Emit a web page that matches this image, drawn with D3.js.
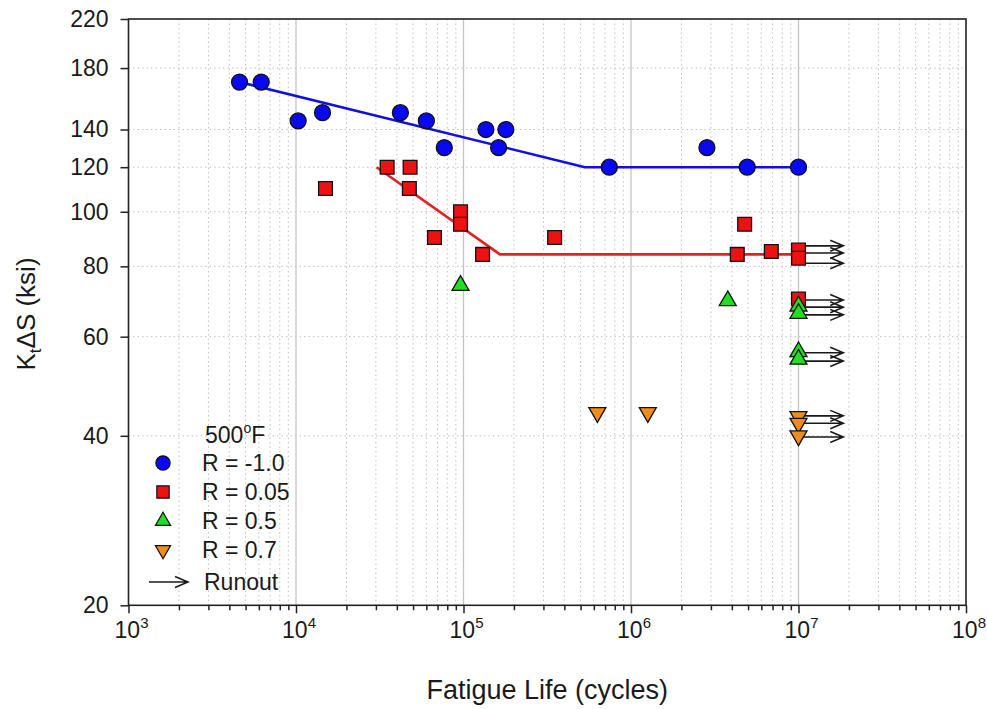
<!DOCTYPE html>
<html>
<head>
<meta charset="utf-8">
<script src="https://cdn.jsdelivr.net/npm/d3@7"></script>
<style>
body { margin: 0; background: #fff; }
text { font-family: "Liberation Sans", Arial, sans-serif; fill: #1a1a1a; }
</style>
</head>
<body>
<svg id="chart" width="987" height="709"></svg>
<script>
// R = -1.0
const rm1Life = [4600, 6200, 10300, 14400, 42000, 60000, 76800, 136000, 162000, 179000, 742000, 2.84e6, 4.94e6, 1e7];
const rm1Stress = [170, 170, 145, 150, 150, 145, 130, 140, 130, 140, 120, 130, 120, 120];
// R = 0.05
const r005Life = [15000, 35000, 48000, 47500, 96000, 96000, 67100, 130000, 350000, 4.31e6, 4.77e6, 6.88e6, 1e7, 1e7, 1e7];
const r005Stress = [110, 120, 120, 110, 100, 95, 90, 84, 90, 84, 95, 85, 85.5, 82.7, 70];
// R = 0.5
const r05Life = [96000, 3.78e6, 1e7, 1e7, 1e7, 1e7];
const r05Stress = [74, 69.5, 68, 66, 56.4, 54.7];
// R = 0.7
const r07Life = [630000, 1.26e6, 1e7, 1e7, 1e7];
const r07Stress = [44, 44, 43.3, 42.1, 40];

// fitted curves
const fitRm1 = [[4600, 170], [5.3e5, 120], [1e7, 120]];
const fitR005 = [[30300, 120], [1.65e5, 84], [1e7, 84]];

// runouts (arrows from 1e7 cycles)
const runoutLife = 1e7;
const runoutEnd = 1.85e7;
const runoutStress = [87, 84.5, 81, 69.7, 67.7, 65.6, 56.2, 54.3, 43.4, 42.1, 39.8];

const legendLabels = ["R = -1.0", "R = 0.05", "R = 0.5", "R = 0.7", "Runout"];
const yTicks = [20, 40, 60, 80, 100, 120, 140, 180, 220];
const xDecades = [3, 4, 5, 6, 7, 8];

const svg = d3.select("#chart");
const L = 128.5, R = 966, T = 19, B = 605.3;

const x = d3.scaleLog().domain([1e3, 1e8]).range([L, R]);
const y = d3.scaleLog().domain([20, 220]).range([B, T]);

svg.append("rect").attr("width", 987).attr("height", 709).attr("fill", "#fff");

// minor vertical grid (dotted)
const minorX = [];
xDecades.slice(0, -1).forEach(e => {
    for (let k = 2; k <= 9; k++) minorX.push(k * Math.pow(10, e));
});
const grid = svg.append("g");
grid.selectAll(".vminor").data(minorX).join("line")
    .attr("x1", d => x(d)).attr("x2", d => x(d))
    .attr("y1", T).attr("y2", B)
    .attr("stroke", "#c2c2c2").attr("stroke-width", 1)
    .attr("stroke-dasharray", "1.5,3");
grid.selectAll(".hgrid").data(yTicks.slice(1, -1)).join("line")
    .attr("x1", L).attr("x2", R)
    .attr("y1", d => y(d)).attr("y2", d => y(d))
    .attr("stroke", "#c2c2c2").attr("stroke-width", 1)
    .attr("stroke-dasharray", "1.5,3");
grid.selectAll(".vmajor").data(xDecades.slice(1, -1)).join("line")
    .attr("x1", d => x(Math.pow(10, d))).attr("x2", d => x(Math.pow(10, d)))
    .attr("y1", T).attr("y2", B)
    .attr("stroke", "#c4c4c4").attr("stroke-width", 1.3);

// axes
const yAxis = svg.append("g").attr("transform", `translate(${L},0)`)
    .call(d3.axisLeft(y).tickValues(yTicks).tickSize(8).tickPadding(12).tickFormat(d3.format("d")));
yAxis.select(".domain").remove();
yAxis.selectAll("line").attr("stroke", "#222").attr("stroke-width", 1.5);
yAxis.selectAll("text").style("font-size", "23px").attr("fill", "#1a1a1a");

const xAxisMinor = svg.append("g").attr("transform", `translate(0,${B})`)
    .call(d3.axisBottom(x).tickValues(minorX).tickSize(5).tickFormat(""));
xAxisMinor.select(".domain").remove();
xAxisMinor.selectAll("line").attr("stroke", "#222").attr("stroke-width", 1.5);

const xAxis = svg.append("g").attr("transform", `translate(0,${B})`)
    .call(d3.axisBottom(x).tickValues(xDecades.map(e => Math.pow(10, e))).tickSize(8).tickFormat(""));
xAxis.select(".domain").remove();
xAxis.selectAll("line").attr("stroke", "#222").attr("stroke-width", 1.5);

const xl = svg.append("g").selectAll("text").data(xDecades).join("text")
    .attr("x", d => x(Math.pow(10, d)) + 3)
    .attr("y", 638)
    .attr("text-anchor", "middle")
    .style("font-size", "23px");
xl.append("tspan").text("10");
xl.append("tspan").attr("dy", -10).style("font-size", "15px").text(d => d);

// frame
svg.append("rect").attr("x", L).attr("y", T).attr("width", R - L).attr("height", B - T)
    .attr("fill", "none").attr("stroke", "#222").attr("stroke-width", 1.6);

// titles
svg.append("text").attr("x", (L + R) / 2).attr("y", 699)
    .attr("text-anchor", "middle").style("font-size", "27px")
    .text("Fatigue Life (cycles)");

const yt = svg.append("text")
    .attr("transform", "translate(35,314) rotate(-90)")
    .attr("text-anchor", "middle").style("font-size", "26px");
yt.append("tspan").text("K");
yt.append("tspan").attr("dy", 6).style("font-size", "17px").text("t");
yt.append("tspan").attr("dy", -6).text("\u0394S (ksi)");

// fit lines
const line = d3.line().x(d => x(d[0])).y(d => y(d[1]));
svg.append("path").attr("d", line(fitRm1)).attr("fill", "none")
    .attr("stroke", "#0f0fe6").attr("stroke-width", 2.6);
svg.append("path").attr("d", line(fitR005)).attr("fill", "none")
    .attr("stroke", "#e62020").attr("stroke-width", 2.6);

// runout arrows
const arrowPath = (x1, x2, yy) =>
    `M${x1},${yy}L${x2},${yy}M${x2 - 13},${yy - 5.5}L${x2},${yy}L${x2 - 13},${yy + 5.5}`;
svg.append("g").selectAll("path").data(runoutStress).join("path")
    .attr("d", d => arrowPath(x(runoutLife), x(runoutEnd), y(d)))
    .attr("fill", "none").attr("stroke", "#1a1a1a").attr("stroke-width", 1.6);

// markers
const series = [
    { life: rm1Life, stress: rm1Stress, type: d3.symbolCircle, size: 200, fill: "#0808f2", rot: 0 },
    { life: r005Life, stress: r005Stress, type: d3.symbolSquare, size: 190, fill: "#ee1111", rot: 0 },
    { life: r05Life, stress: r05Stress, type: d3.symbolTriangle, size: 125, fill: "#22dd22", rot: 0 },
    { life: r07Life, stress: r07Stress, type: d3.symbolTriangle, size: 125, fill: "#f08c1a", rot: 180 }
];
series.forEach(s => {
    svg.append("g").selectAll("path").data(d3.zip(s.life, s.stress)).join("path")
        .attr("d", d3.symbol().type(s.type).size(s.size))
        .attr("transform", d => `translate(${x(d[0])},${y(d[1])}) rotate(${s.rot})`)
        .attr("fill", s.fill).attr("stroke", "#111").attr("stroke-width", 1.3);
});

// legend
const lg = svg.append("g");
const lt = lg.append("text").attr("x", 205).attr("y", 443).style("font-size", "23px");
lt.append("tspan").text("500");
lt.append("tspan").attr("dy", -10).style("font-size", "14px").text("o");
lt.append("tspan").attr("dy", 10).text("F");

const rowY = [463, 492, 521, 550, 582];
series.forEach((s, i) => {
    lg.append("path")
        .attr("d", d3.symbol().type(s.type).size(s.size * 0.8)())
        .attr("transform", `translate(163,${rowY[i]}) rotate(${s.rot})`)
        .attr("fill", s.fill).attr("stroke", "#111").attr("stroke-width", 1.2);
});
lg.append("path").attr("d", arrowPath(149, 188, rowY[4]))
    .attr("fill", "none").attr("stroke", "#1a1a1a").attr("stroke-width", 1.5);
lg.selectAll(".lbl").data(legendLabels).join("text")
    .attr("x", (d, i) => i === 4 ? 204 : 202)
    .attr("y", (d, i) => rowY[i] + 8)
    .style("font-size", "23px")
    .text(d => d);
</script>
</body>
</html>
